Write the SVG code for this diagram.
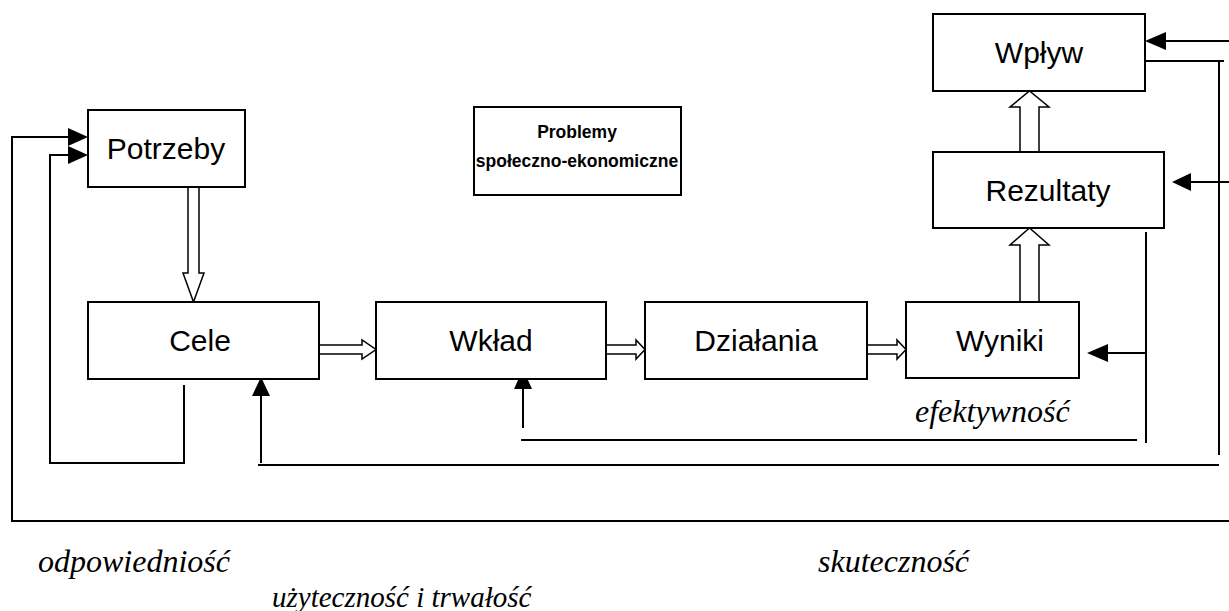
<svg xmlns="http://www.w3.org/2000/svg" width="1229" height="611" viewBox="0 0 1229 611">
<style>
.box{fill:#fff;stroke:#000;stroke-width:2}
.lbl{font-family:"Liberation Sans",Arial,sans-serif;font-size:30px;fill:#000;text-anchor:middle}
.bold{font-family:"Liberation Sans",Arial,sans-serif;font-size:17.5px;font-weight:bold;fill:#000;text-anchor:middle}
.it{font-family:"Liberation Serif","Times New Roman",serif;font-size:32px;font-style:italic;fill:#000}
.ln{fill:none;stroke:#000;stroke-width:2}
.hol{fill:#fff;stroke:#000;stroke-width:1.5}
.head{fill:#000}
</style>
<rect width="1229" height="611" fill="#fff"/>
<g id="connectors">
  <polyline class="ln" points="1229,521 12,521 12,137 70,137"/>
  <polygon class="head" points="88,137 68,128 68,146"/>
  <polyline class="ln" points="184,385 184,463 50,463 50,155 70,155"/>
  <polygon class="head" points="88,155 68,146 68,164"/>
  <polyline class="ln" points="261,463 261,394"/>
  <polygon class="head" points="261,377 252,396 270,396"/>
  <polyline class="ln" points="258,465 1219,465"/>
  <polyline class="ln" points="1145,61 1224,61"/>
  <polyline class="ln" points="1219,61 1219,455"/>
  <polyline class="ln" points="1229,41 1163,41"/>
  <polygon class="head" points="1145,41 1166,32 1166,50"/>
  <polyline class="ln" points="1229,182 1188,182"/>
  <polygon class="head" points="1172,182 1191,173 1191,191"/>
  <polyline class="ln" points="1146,232 1146,443"/>
  <polyline class="ln" points="1146,353 1105,353"/>
  <polygon class="head" points="1087,353 1108,344 1108,362"/>
  <polyline class="ln" points="521,440 1137,440"/>
  <polyline class="ln" points="523,428 523,387"/>
  <polygon class="head" points="523,369 514,389 532,389"/>
  <polygon class="hol" points="188,187 199,187 199,273 204,273 193.5,302 183,273 188,273"/>
  <polygon class="hol" points="319,345 362,345 362,340 376,349.5 362,359 362,354 319,354"/>
  <polygon class="hol" points="606,345 636,345 636,340 645,349.5 636,359 636,354 606,354"/>
  <polygon class="hol" points="867,345 897,345 897,340 906,349.5 897,359 897,354 867,354"/>
  <polygon class="hol" points="1020,302 1020,245 1010,245 1029.5,228 1049,245 1039,245 1039,302"/>
  <polygon class="hol" points="1020,152 1020,107 1010,107 1029.5,91 1049,107 1039,107 1039,152"/>
</g>
<g id="potrzeby"><rect class="box" x="88" y="110" width="157" height="77"/><text class="lbl" x="166" y="159">Potrzeby</text></g>
<g id="problemy"><rect class="box" x="474" y="107" width="207" height="88"/><text class="bold" x="577" y="138">Problemy</text><text class="bold" x="577" y="167">społeczno-ekonomiczne</text></g>
<g id="wplyw"><rect class="box" x="933" y="14" width="212" height="77"/><text class="lbl" x="1039" y="63">Wpływ</text></g>
<g id="rezultaty"><rect class="box" x="933" y="152" width="231" height="76"/><text class="lbl" x="1048" y="201">Rezultaty</text></g>
<g id="cele"><rect class="box" x="88" y="302" width="231" height="77"/><text class="lbl" x="200" y="351">Cele</text></g>
<g id="wklad"><rect class="box" x="376" y="302" width="230" height="77"/><text class="lbl" x="491" y="351">Wkład</text></g>
<g id="dzialania"><rect class="box" x="645" y="302" width="222" height="77"/><text class="lbl" x="756" y="351">Działania</text></g>
<g id="wyniki"><rect class="box" x="906" y="302" width="173" height="76"/><text class="lbl" x="1000" y="351">Wyniki</text></g>
<g id="labels">
  <text class="it" x="915" y="422">efektywność</text>
  <text class="it" x="38" y="572">odpowiedniość</text>
  <text class="it" x="818" y="572">skuteczność</text>
  <text class="it" x="272" y="607" style="font-size:29px">użyteczność i trwałość</text>
</g>
</svg>
